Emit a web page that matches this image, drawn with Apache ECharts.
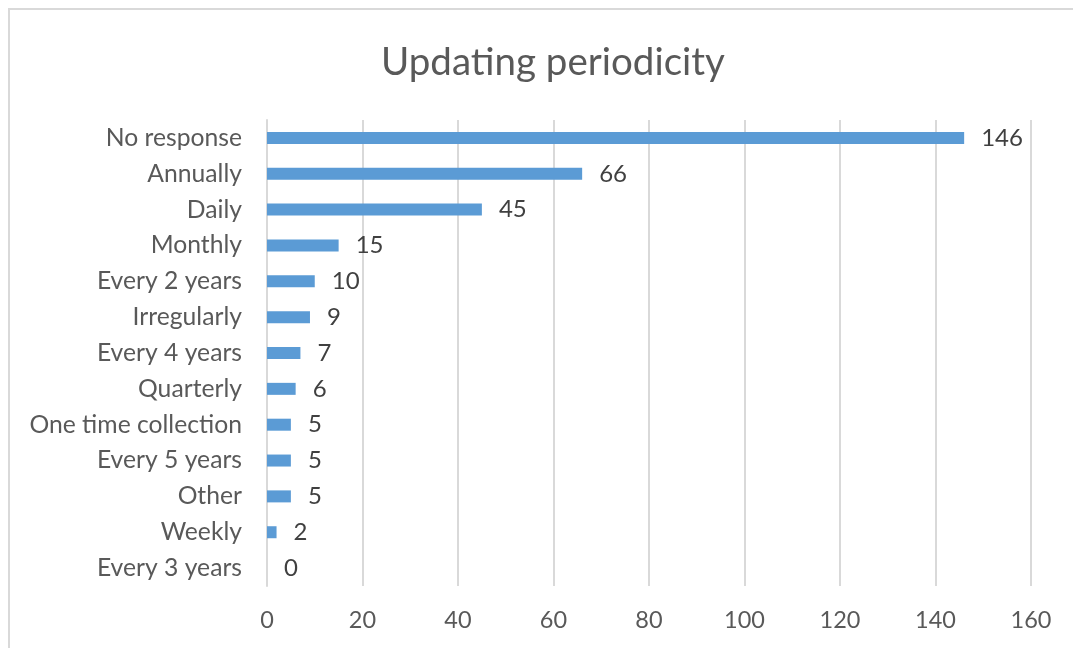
<!DOCTYPE html>
<html>
<head>
<meta charset="utf-8">
<script src="https://cdn.jsdelivr.net/npm/echarts@6/dist/echarts.min.js"></script>
<style>
  html, body { margin: 0; padding: 0; background: #fff; }
  #chart { width: 1073px; height: 648px; }
</style>
</head>
<body>
<div id="chart"></div>
<script>
// Update frequency categories, listed top to bottom
const categories = [
  'No response', 'Annually', 'Daily', 'Monthly', 'Every 2 years',
  'Irregularly', 'Every 4 years', 'Quarterly', 'One time collection',
  'Every 5 years', 'Other', 'Weekly', 'Every 3 years'
];
const counts = [146, 66, 45, 15, 10, 9, 7, 6, 5, 5, 5, 2, 0];
const xTicks = [0, 20, 40, 60, 80, 100, 120, 140, 160];

const FONT = 'Lato';
const chart = echarts.init(document.getElementById('chart'), null, { renderer: 'canvas' });

chart.setOption({
  backgroundColor: '#ffffff',
  animation: false,
  title: {
    text: 'Updating periodicity',
    left: 376,
    top: 38,
    textStyle: { fontFamily: FONT, fontSize: 38.5, fontWeight: 'normal', color: '#595959' }
  },
  graphic: [{
    type: 'rect',
    shape: { x: 9, y: 9, width: 1200, height: 800 },
    style: { fill: 'none', stroke: '#d9d9d9', lineWidth: 2 },
    silent: true
  }],
  grid: { left: 267, right: 42, top: 120, bottom: 62, containLabel: false },
  xAxis: {
    type: 'value',
    min: xTicks[0],
    max: xTicks[xTicks.length - 1],
    interval: 20,
    axisLine: { show: false },
    axisTick: { show: false },
    splitLine: { show: true, lineStyle: { color: '#d9d9d9', width: 2 } },
    axisLabel: { fontFamily: FONT, fontSize: 23.5, color: '#595959', margin: 22 }
  },
  yAxis: {
    type: 'category',
    inverse: true,
    data: categories,
    axisLine: { show: true, lineStyle: { color: '#d9d9d9', width: 2 } },
    axisTick: { show: false },
    axisLabel: { fontFamily: FONT, fontSize: 24.7, color: '#595959', margin: 25 }
  },
  series: [{
    type: 'bar',
    data: counts,
    barWidth: 12,
    itemStyle: { color: '#5b9bd5' },
    label: {
      show: true,
      position: 'right',
      distance: 17,
      fontFamily: FONT,
      fontSize: 24,
      color: '#404040'
    }
  }]
});
</script>
</body>
</html>
